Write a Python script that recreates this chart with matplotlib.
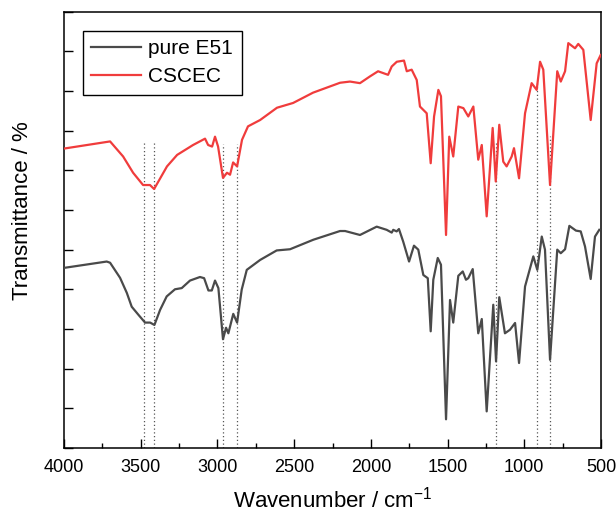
import numpy as np
import matplotlib
matplotlib.use('Agg')
import matplotlib.pyplot as plt
from matplotlib.ticker import MultipleLocator, NullFormatter

plt.rcParams['font.family'] = ['Liberation Sans', 'DejaVu Sans']
plt.rcParams['mathtext.default'] = 'regular'

# FTIR spectra, transmittance in arbitrary units
wn_red = [4000, 3700, 3615, 3550, 3485, 3440, 3413, 3329, 3263, 3159, 3081, 3061,
          3035, 3016, 2996, 2964, 2938, 2918, 2898, 2872, 2840, 2801, 2722, 2612,
          2507, 2377, 2201, 2136, 2071, 2006, 1953, 1888, 1864, 1831, 1784, 1766,
          1734, 1701, 1680, 1636, 1610, 1588, 1560, 1543, 1510, 1489, 1463, 1430,
          1397, 1365, 1332, 1300, 1277, 1245, 1206, 1186, 1163, 1137, 1115, 1082,
          1067, 1034, 995, 952, 919, 897, 876, 832, 785, 762, 734, 713, 669, 648,
          615, 567, 528, 502]
t_red = [7.55, 7.73, 7.35, 6.94, 6.63, 6.63, 6.53, 7.10, 7.39, 7.64, 7.80, 7.64,
         7.60, 7.85, 7.60, 6.81, 6.94, 6.89, 7.20, 7.10, 7.77, 8.11, 8.27, 8.58,
         8.70, 8.96, 9.21, 9.24, 9.20, 9.37, 9.50, 9.41, 9.62, 9.74, 9.77, 9.50,
         9.54, 9.28, 8.61, 8.44, 7.18, 8.36, 9.03, 8.87, 5.37, 7.85, 7.35, 8.61,
         8.57, 8.36, 8.61, 7.27, 7.64, 5.84, 8.07, 6.72, 8.15, 7.22, 7.10, 7.35,
         7.56, 6.80, 8.44, 9.20, 9.03, 9.74, 9.54, 6.63, 9.50, 9.24, 9.50, 10.21,
         10.08, 10.19, 10.04, 8.27, 9.70, 9.91]

wn_blk = [4000, 3722, 3700, 3635, 3591, 3559, 3516, 3472, 3439, 3411, 3374, 3331,
          3277, 3233, 3179, 3114, 3087, 3059, 3037, 3016, 2994, 2964, 2944, 2929,
          2897, 2872, 2842, 2809, 2722, 2614, 2527, 2375, 2201, 2168, 2071, 1962,
          1897, 1864, 1854, 1832, 1817, 1789, 1751, 1719, 1691, 1658, 1629, 1610,
          1593, 1564, 1543, 1510, 1484, 1463, 1430, 1401, 1380, 1365, 1336, 1300,
          1277, 1245, 1202, 1184, 1163, 1126, 1093, 1060, 1034, 995, 941, 915,
          886, 865, 832, 785, 762, 734, 706, 663, 632, 604, 567, 539, 511]
t_blk = [4.54, 4.70, 4.67, 4.29, 3.91, 3.56, 3.36, 3.16, 3.16, 3.10, 3.48, 3.82,
         4.00, 4.03, 4.22, 4.31, 4.28, 3.97, 3.97, 4.22, 4.03, 2.74, 3.03, 2.89,
         3.38, 3.16, 3.99, 4.49, 4.74, 4.98, 5.01, 5.25, 5.47, 5.47, 5.37, 5.58,
         5.50, 5.43, 5.50, 5.46, 5.52, 5.20, 4.70, 5.10, 5.00, 4.36, 4.28, 2.94,
         4.24, 4.79, 4.62, 0.72, 3.73, 3.16, 4.34, 4.45, 4.24, 4.28, 4.51, 2.89,
         3.25, 0.92, 3.61, 2.18, 3.80, 2.89, 2.98, 3.15, 2.14, 4.07, 4.83, 4.49,
         5.33, 5.00, 2.22, 5.00, 4.91, 5.01, 5.60, 5.48, 5.46, 5.08, 4.26, 5.33, 5.50]

# marked bands and how high the dotted guide goes
bands = [3477, 3411, 2964, 2872, 1186, 917, 834]
band_top = [7.69, 7.69, 7.67, 7.67, 7.69, 9.24, 7.87]

fig = plt.figure(figsize=(6.16, 5.13), dpi=100)
ax = fig.add_axes([0.104, 0.127, 0.8716, 0.85])

ax.vlines(bands, 0, band_top, colors='#555555', linestyles=(0, (1, 2)), lw=0.9, zorder=1)
ax.plot(wn_blk, t_blk, color='#4a4a4a', lw=1.6, label='pure E51', zorder=3)
ax.plot(wn_red, t_red, color='#f03c3c', lw=1.6, label='CSCEC', zorder=3)

ax.set_xlim(4000, 500)
ax.set_ylim(0, 11)
ax.xaxis.set_major_locator(MultipleLocator(500))
ax.xaxis.set_minor_locator(MultipleLocator(250))
ax.yaxis.set_major_locator(MultipleLocator(1))
ax.yaxis.set_major_formatter(NullFormatter())
ax.tick_params(which='both', direction='in', top=False, right=False, width=1.0)
ax.tick_params(which='major', length=6.5, labelsize=13, pad=8)
ax.tick_params(which='minor', length=3.5)
for s in ax.spines.values():
    s.set_linewidth(1.1)

ax.set_xlabel('Wavenumber / cm$^{-1}$', fontsize=16, labelpad=8)
ax.set_ylabel('Transmittance / %', fontsize=16)
ax.yaxis.set_label_coords(-0.058, 0.545)

leg = ax.legend(loc='upper left', bbox_to_anchor=(0.035, 0.957), borderaxespad=0,
                fontsize=15, fancybox=False, edgecolor='black', framealpha=1,
                handlelength=2.4, handletextpad=0.35, labelspacing=0.45, borderpad=0.4)
leg.get_frame().set_linewidth(1.0)

plt.savefig('out.png', dpi=100)
